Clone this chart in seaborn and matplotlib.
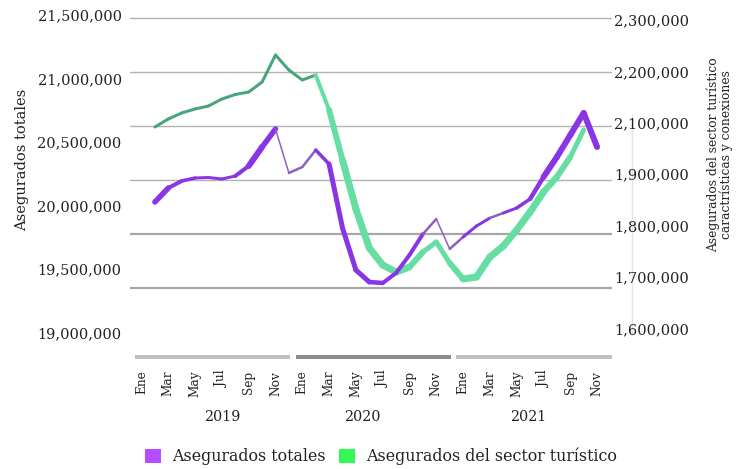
import numpy as np
import pandas as pd
import matplotlib
matplotlib.use("Agg")
import matplotlib.pyplot as plt
import seaborn as sns
from matplotlib.patches import Rectangle, Patch
from matplotlib import transforms
from matplotlib.lines import Line2D

# ---------------- data ----------------
years = [2019, 2020, 2021]
month_tick_labels = ["Ene", "Mar", "May", "Jul", "Sep", "Nov"]
month_tick_numbers = [1, 3, 5, 7, 9, 11]

# Feb 2019 ... Nov 2021
periodos = [(y, m) for y in years for m in range(1, 13)][1:35]

asegurados_totales = [
    20029100, 20139400, 20194500, 20218100, 20222000, 20210200, 20233900, 20312600,
    20462200, 20603900, 20257500, 20304700, 20438600, 20328300, 19824400, 19493700,
    19399200, 19391300, 19470100, 19611800, 19777200, 19895300, 19659100, 19753500,
    19840200, 19903200, 19942500, 19981900, 20052800, 20226000, 20383500, 20556700,
    20729900, 20462200,
]
asegurados_turismo = [
    2091800, 2107400, 2119100, 2126900, 2132700, 2146300, 2155100, 2159900,
    2179400, 2231900, 2202700, 2183300, 2193000, 2124900, 2027600, 1932300,
    1856400, 1823400, 1809700, 1819500, 1848600, 1868100, 1827200, 1796100,
    1800000, 1838900, 1860300, 1891400, 1926500, 1965400, 1994600, 2033500,
    2086000, np.nan,
]

left_tick_values = [21500000, 21000000, 20500000, 20000000, 19500000, 19000000]
left_tick_labels = ["21,500,000", "21,000,000", "20,500,000", "20,000,000", "19,500,000", "19,000,000"]
right_tick_values = [2300000, 2200000, 2100000, 2000000, 1900000, 1800000, 1700000]
right_tick_labels = ["2,300,000", "2,200,000", "2,100,000", "1,900,000", "1,800,000", "1,700,000", "1,600,000"]

serie_totales = "Asegurados totales"
serie_turismo = "Asegurados del sector turístico"
ylabel_left = "Asegurados totales"
ylabel_right = "Asegurados del sector turístico\ncaractrísticas y conexiones"

# ---------------- styles (line widths in px per segment) ----------------
purple_widths_px = [5.5, 4, 3.5, 3, 3, 3, 4, 6, 5.5, 1.5,
                    2.5, 2.5, 3.5, 5, 5, 5, 4.5, 4, 4, 4,
                    2.5, 1.5, 2.5, 3, 3, 2.5, 3, 3.5, 4.5, 6,
                    6, 6, 6]
green_widths_px = [3] * 12 + [4, 6, 7, 7, 7, 7, 7, 6, 5, 5, 6, 7, 7, 7, 7, 7, 7, 6.5, 6, 5]

# ---------------- figure ----------------
sns.set_style("white")
plt.rcParams["font.family"] = ["DejaVu Serif"]
TXT = "#222222"

W, H = 742, 469
fig = plt.figure(figsize=(W / 100, H / 100), dpi=100)
L_px, R_px, T_px, B_px = 130, 612, 10, 345
rect = [L_px / W, 1 - B_px / H, (R_px - L_px) / W, (B_px - T_px) / H]

axg = fig.add_axes(rect, label="grid")
ax2 = fig.add_axes(rect, label="turismo", sharex=axg)
ax = fig.add_axes(rect, label="totales", sharex=axg)
axg.set_zorder(0)
ax2.set_zorder(1)
ax.set_zorder(2)
for a in (ax, ax2):
    a.patch.set_visible(False)
for a in (axg, ax, ax2):
    for s in a.spines.values():
        s.set_visible(False)

x_pos = [(y - years[0]) * 12 + (m - 1) for (y, m) in periodos]
px_to_idx = lambda px: (px - 141.5) / 13.4
axg.set_xlim(px_to_idx(L_px), px_to_idx(R_px))

# grid axis: 6 horizontal rules
grid_levels = [0, 1, 2, 3, 4, 5]
axg.set_ylim((B_px - 18) / 54.05, (T_px - 18) / 54.05)
for lev in grid_levels:
    axg.axhline(lev, color="#b2b2b2" if lev < 4 else "#a6a6a6",
                lw=1.0 if lev < 4 else 1.6, zorder=0)
axg.set_yticks([])
axg.tick_params(axis="x", which="both", length=0, labelbottom=False)


def seg_frame(xs, ys):
    rows = []
    for i in range(len(xs) - 1):
        if np.isnan(ys[i]) or np.isnan(ys[i + 1]):
            continue
        rows.append({"x": xs[i], "y": ys[i], "seg": i})
        rows.append({"x": xs[i + 1], "y": ys[i + 1], "seg": i})
    return pd.DataFrame(rows)


# green series (right axis)
dfg = seg_frame(x_pos, [float(v) for v in asegurados_turismo])
segs_g = sorted(dfg["seg"].unique())
sizes_g = {s: green_widths_px[k] * 0.72 for k, s in enumerate(segs_g)}
pal_g = {s: ("#48a47b" if green_widths_px[k] <= 3.5 else "#66dea3") for k, s in enumerate(segs_g)}
sns.lineplot(data=dfg, x="x", y="y", hue="seg", size="seg", sizes=sizes_g, palette=pal_g,
             estimator=None, errorbar=None, legend=False, ax=ax2, solid_capstyle="round")

# purple series (left axis)
dfp = seg_frame(x_pos, [float(v) for v in asegurados_totales])
segs_p = sorted(dfp["seg"].unique())
sizes_p = {s: purple_widths_px[k] * 0.72 for k, s in enumerate(segs_p)}
pal_p = {s: ("#8a62bc" if purple_widths_px[k] <= 2.5 else "#8a35e4") for k, s in enumerate(segs_p)}
sns.lineplot(data=dfp, x="x", y="y", hue="seg", size="seg", sizes=sizes_p, palette=pal_p,
             estimator=None, errorbar=None, legend=False, ax=ax, solid_capstyle="round")

# left axis scale (21.5M at y=15.2 px, 500k per 63.5 px)
l_per_px = 500000 / 63.5
ax.set_ylim(21500000 - (B_px - 15.2) * l_per_px, 21500000 + (15.2 - T_px) * l_per_px)
ax.set_yticks(left_tick_values)
ax.set_yticklabels(left_tick_labels)
ax.tick_params(axis="y", length=0, pad=6, labelsize=10.5, labelcolor=TXT)
ax.set_ylabel("")

# right axis scale (2.3M at y=20 px, 100k per 51.4 px)
r_per_px = 100000 / 51.4
ax2.set_ylim(2300000 - (B_px - 20) * r_per_px, 2300000 + (20 - T_px) * r_per_px)
ax2.yaxis.tick_right()
ax2.set_yticks(right_tick_values)
ax2.set_yticklabels(right_tick_labels)
ax2.tick_params(axis="y", length=0, pad=1.5, labelsize=10.5, labelcolor=TXT)
ax2.tick_params(axis="x", length=0, labelbottom=False)
ax2.set_ylabel("")
ax2.set_xlabel("")

# x ticks: months
xt, xl = [], []
for yi, y in enumerate(years):
    for lab, m in zip(month_tick_labels, month_tick_numbers):
        xt.append(yi * 12 + m - 1)
        xl.append(lab)
ax.set_xticks(xt)
ax.set_xticklabels(xl, rotation=90)
ax.tick_params(axis="x", length=0, pad=18.5, labelsize=8.7, labelcolor=TXT)
ax.set_xlabel("")

# year bands and year labels
btr = transforms.blended_transform_factory(ax.transData, fig.transFigure)
band_colors = ["#c0c0c0", "#8c8c8c", "#c0c0c0"]
year_label_offset = [6.0, 4.5, 4.85]
for yi, y in enumerate(years):
    r = Rectangle((yi * 12 - 0.5, 1 - 359.5 / H), 11.6, 4.5 / H, transform=btr,
                  facecolor=band_colors[yi], edgecolor="none", clip_on=False)
    ax.add_patch(r)
    ax.text(yi * 12 + year_label_offset[yi], 1 - 416.5 / H, str(y), transform=btr,
            ha="center", va="center", fontsize=10.3, color=TXT, clip_on=False)

# axis titles
fig.text(21.7 / W, 1 - 160 / H, ylabel_left, rotation=90, ha="center", va="center",
         fontsize=10.5, color=TXT)
fig.text(720 / W, 1 - 154.5 / H, ylabel_right, rotation=90, ha="center", va="center",
         fontsize=8.8, color=TXT, multialignment="center", linespacing=0.95)

# faint vertical rule on the right
fig.add_artist(Line2D([632 / W, 632 / W], [1 - 115 / H, 1 - 335 / H], color="#e4e4e4", lw=1, zorder=0))

# legend
handles = [Patch(facecolor="#b54cff", edgecolor="none", label=serie_totales),
           Patch(facecolor="#33f955", edgecolor="none", label=serie_turismo)]
fig.legend(handles=handles, loc="center", bbox_to_anchor=(381 / W, 1 - 456.5 / H), ncol=2,
           frameon=False, fontsize=11.4, handlelength=1.0, handleheight=1.0,
           handletextpad=0.75, columnspacing=0.8, labelcolor=TXT, borderpad=0)

fig.savefig("out.png", dpi=100)
